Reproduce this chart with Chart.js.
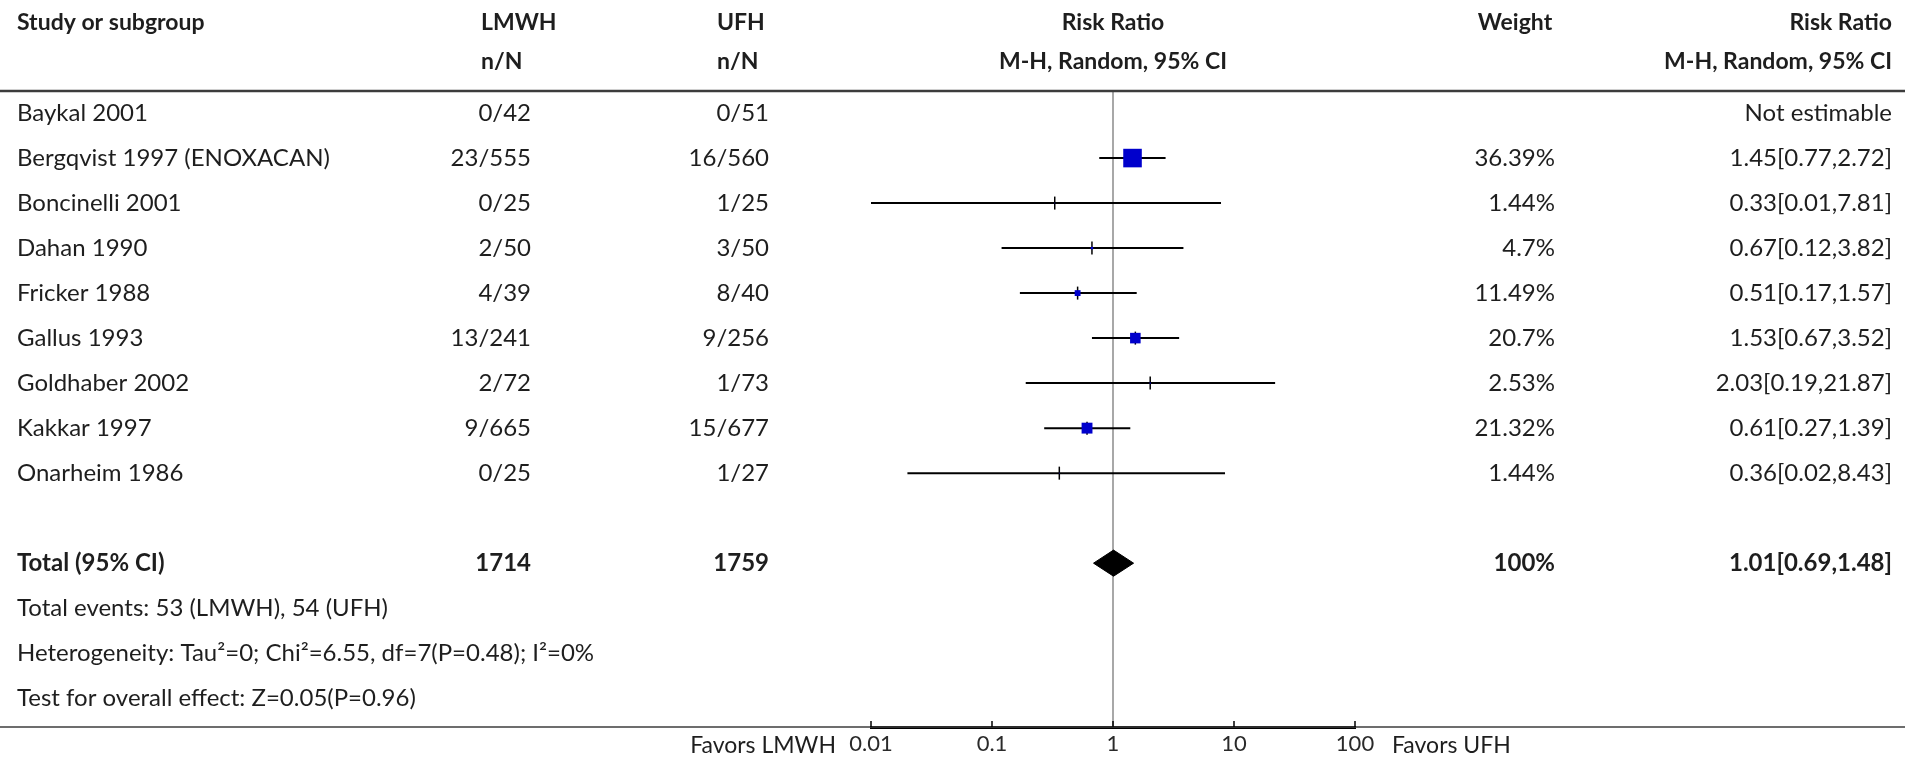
<!DOCTYPE html>
<html>
<head>
<meta charset="utf-8">
<title>LMWH vs UFH - forest plot</title>
<script src="https://cdn.jsdelivr.net/npm/chart.js@4.4.1/dist/chart.umd.min.js"></script>
<style>
    html, body { margin: 0; padding: 0; background: #fff; }
    #forestChart { display: block; }
</style>
</head>
<body>
<canvas id="forestChart" width="1905" height="767"></canvas>
<script>
// Study rows
const studies = [
    'Baykal 2001',
    'Bergqvist 1997 (ENOXACAN)',
    'Boncinelli 2001',
    'Dahan 1990',
    'Fricker 1988',
    'Gallus 1993',
    'Goldhaber 2002',
    'Kakkar 1997',
    'Onarheim 1986'
];
const lmwhEvents = [0, 23, 0, 2, 4, 13, 2, 9, 0];
const lmwhTotals = [42, 555, 25, 50, 39, 241, 72, 665, 25];
const ufhEvents = [0, 16, 1, 3, 8, 9, 1, 15, 1];
const ufhTotals = [51, 560, 25, 50, 40, 256, 73, 677, 27];

// Per-study estimates (null = not estimable)
const weights = [null, 36.39, 1.44, 4.7, 11.49, 20.7, 2.53, 21.32, 1.44];
const riskRatios = [null, 1.45, 0.33, 0.67, 0.51, 1.53, 2.03, 0.61, 0.36];
const ciLower = [null, 0.77, 0.01, 0.12, 0.17, 0.67, 0.19, 0.27, 0.02];
const ciUpper = [null, 2.72, 7.81, 3.82, 1.57, 3.52, 21.87, 1.39, 8.43];

// Pooled estimate
const pooledRR = 1.01;
const pooledLower = 0.69;
const pooledUpper = 1.48;
const pooledWeight = 100;

// Axis
const tickValues = [0.01, 0.1, 1, 10, 100];
const tickLabels = ['0.01', '0.1', '1', '10', '100'];

const footnotes = [
    'Total events: 53 (LMWH), 54 (UFH)',
    'Heterogeneity: Tau\u00b2=0; Chi\u00b2=6.55, df=7(P=0.48); I\u00b2=0%',
    'Test for overall effect: Z=0.05(P=0.96)'
];

// Layout (pixels)
const FONT = 'Lato, "Noto Sans", sans-serif';
const BODY_SIZE = 24;
const HEAD_SIZE = 23;
const TICK_SIZE = 22;
const TEXT_COLOR = '#1e1e1e';
const MARKER_BLUE = '#0000cc';
const HEADER_LINE_Y = 91;
const AXIS_Y = 727;
const col = {
    study: 17,
    lmwhHead: 481, lmwhRight: 531,
    ufhHead: 717, ufhRight: 769,
    plotCenter: 1113,
    weightHead: 1515, weightRight: 1555,
    rrRight: 1892
};
const ROW_MIN = -0.49;
const ROW_MAX = 13.64;
const totalRow = studies.length + 1;
const PX_PER_WEIGHT = 0.51;    // square side in px per % weight
const DIAMOND_HALF = 0.29;     // diamond half-height, in rows

const sum = arr => arr.reduce((a, b) => a + b, 0);
const fmt = v => v.toFixed(2);

function estimable() {
    return studies.map((_, i) => i).filter(i => riskRatios[i] !== null);
}

function buildDatasets() {
    const rows = estimable();
    const datasets = [];

    // squares sized by weight
    datasets.push({
        type: 'scatter',
        data: rows.map(i => ({ x: riskRatios[i], y: i })),
        pointStyle: 'rect',
        pointRadius: rows.map(i => weights[i] * PX_PER_WEIGHT / Math.SQRT2),
        backgroundColor: MARKER_BLUE,
        borderWidth: 0,
        order: 1
    });

    // short vertical tick at each point estimate
    datasets.push({
        type: 'scatter',
        data: rows.map(i => ({ x: riskRatios[i], y: i })),
        pointStyle: 'line',
        rotation: 90,
        pointRadius: 6.5,
        borderColor: '#000',
        borderWidth: 1.5,
        order: 2
    });

    // confidence intervals
    rows.forEach(i => {
        datasets.push({
            type: 'line',
            data: [{ x: ciLower[i], y: i }, { x: ciUpper[i], y: i }],
            borderColor: '#000',
            borderWidth: 2,
            pointRadius: 0,
            order: 3
        });
    });

    // pooled diamond
    datasets.push({
        type: 'line',
        data: [
            { x: pooledLower, y: totalRow },
            { x: pooledRR, y: totalRow - DIAMOND_HALF },
            { x: pooledUpper, y: totalRow },
            { x: pooledRR, y: totalRow + DIAMOND_HALF },
            { x: pooledLower, y: totalRow }
        ],
        borderColor: '#000',
        borderWidth: 1,
        backgroundColor: '#000',
        fill: 'shape',
        pointRadius: 0,
        order: 0
    });

    // line of no effect
    datasets.push({
        type: 'line',
        data: [{ x: 1, y: ROW_MIN }, { x: 1, y: ROW_MAX }],
        borderColor: '#8c8c8c',
        borderWidth: 1.5,
        pointRadius: 0,
        order: 5
    });

    return datasets;
}

function drawText(ctx, str, x, y, align, weight, size) {
    ctx.font = (weight || 'normal') + ' ' + (size || BODY_SIZE) + 'px ' + FONT;
    ctx.textAlign = align || 'left';
    ctx.textBaseline = 'middle';
    ctx.fillStyle = TEXT_COLOR;
    ctx.fillText(str, x, y);
}

// Table columns, rules and axis tick marks
const forestTable = {
    id: 'forestTable',
    afterDraw(chart) {
        const ctx = chart.ctx;
        const x = chart.scales.x;
        const y = chart.scales.y;
        const W = chart.width;
        ctx.save();

        // header
        const h1 = 23, h2 = 62;
        const head = (s, px, py, align) => drawText(ctx, s, px, py, align, 'bold', HEAD_SIZE);
        head('Study or subgroup', col.study, h1, 'left');
        head('LMWH', col.lmwhHead, h1, 'left');
        head('n/N', col.lmwhHead, h2, 'left');
        head('UFH', col.ufhHead, h1, 'left');
        head('n/N', col.ufhHead, h2, 'left');
        head('Risk Ratio', col.plotCenter, h1, 'center');
        head('M-H, Random, 95% CI', col.plotCenter, h2, 'center');
        head('Weight', col.weightHead, h1, 'center');
        head('Risk Ratio', col.rrRight, h1, 'right');
        head('M-H, Random, 95% CI', col.rrRight, h2, 'right');

        // study rows
        studies.forEach((name, i) => {
            const py = y.getPixelForValue(i);
            drawText(ctx, name, col.study, py);
            drawText(ctx, lmwhEvents[i] + '/' + lmwhTotals[i], col.lmwhRight, py, 'right');
            drawText(ctx, ufhEvents[i] + '/' + ufhTotals[i], col.ufhRight, py, 'right');
            if (riskRatios[i] === null) {
                drawText(ctx, 'Not estimable', col.rrRight, py, 'right');
            } else {
                drawText(ctx, weights[i] + '%', col.weightRight, py, 'right');
                drawText(ctx, fmt(riskRatios[i]) + '[' + fmt(ciLower[i]) + ',' + fmt(ciUpper[i]) + ']',
                    col.rrRight, py, 'right');
            }
        });

        // total row
        const ty = y.getPixelForValue(totalRow);
        drawText(ctx, 'Total (95% CI)', col.study, ty, 'left', 'bold');
        drawText(ctx, String(sum(lmwhTotals)), col.lmwhRight, ty, 'right', 'bold');
        drawText(ctx, String(sum(ufhTotals)), col.ufhRight, ty, 'right', 'bold');
        drawText(ctx, pooledWeight + '%', col.weightRight, ty, 'right', 'bold');
        drawText(ctx, fmt(pooledRR) + '[' + fmt(pooledLower) + ',' + fmt(pooledUpper) + ']',
            col.rrRight, ty, 'right', 'bold');

        footnotes.forEach((note, k) => {
            drawText(ctx, note, col.study, y.getPixelForValue(totalRow + 1 + k));
        });

        // rules
        ctx.strokeStyle = '#3c3c3c';
        ctx.lineWidth = 2.5;
        ctx.beginPath();
        ctx.moveTo(0, HEADER_LINE_Y);
        ctx.lineTo(W, HEADER_LINE_Y);
        ctx.stroke();

        ctx.lineWidth = 1.5;
        ctx.beginPath();
        ctx.moveTo(0, AXIS_Y);
        ctx.lineTo(W, AXIS_Y);
        ctx.stroke();

        // tick marks pointing up
        ctx.strokeStyle = '#000';
        ctx.lineWidth = 1.5;
        tickValues.forEach(v => {
            const px = x.getPixelForValue(v);
            ctx.beginPath();
            ctx.moveTo(px, AXIS_Y);
            ctx.lineTo(px, AXIS_Y - 6);
            ctx.stroke();
        });

        const fy = AXIS_Y + 19;
        drawText(ctx, 'Favors LMWH', x.left - 35, fy, 'right', 'normal', 23);
        drawText(ctx, 'Favors UFH', x.right + 37, fy, 'left', 'normal', 23);

        ctx.restore();
    }
};

function initForestChart() {
    const canvas = document.getElementById('forestChart');
    if (!canvas) return;

    new Chart(canvas.getContext('2d'), {
        type: 'scatter',
        data: { datasets: buildDatasets() },
        options: {
            responsive: false,
            animation: false,
            layout: {
                padding: { left: col.plotCenter - 242, right: 1905 - (col.plotCenter + 242), top: HEADER_LINE_Y, bottom: 5.6 }
            },
            plugins: {
                legend: { display: false },
                tooltip: { enabled: false }
            },
            scales: {
                x: {
                    type: 'logarithmic',
                    position: 'bottom',
                    min: 0.01,
                    max: 100,
                    afterBuildTicks: function(scale) {
                        scale.ticks = tickValues.map(v => ({ value: v }));
                    },
                    ticks: {
                        padding: 4,
                        color: '#2a2a2a',
                        font: { family: FONT, size: TICK_SIZE },
                        autoSkip: false,
                        maxRotation: 0,
                        callback: function(value) {
                            const k = tickValues.indexOf(value);
                            return k >= 0 ? tickLabels[k] : '';
                        }
                    },
                    grid: { drawOnChartArea: false, drawTicks: false },
                    border: { display: true, color: '#000', width: 3 }
                },
                y: {
                    type: 'linear',
                    display: false,
                    reverse: true,
                    min: ROW_MIN,
                    max: ROW_MAX
                }
            }
        },
        plugins: [forestTable]
    });
}

initForestChart();
</script>
</body>
</html>
